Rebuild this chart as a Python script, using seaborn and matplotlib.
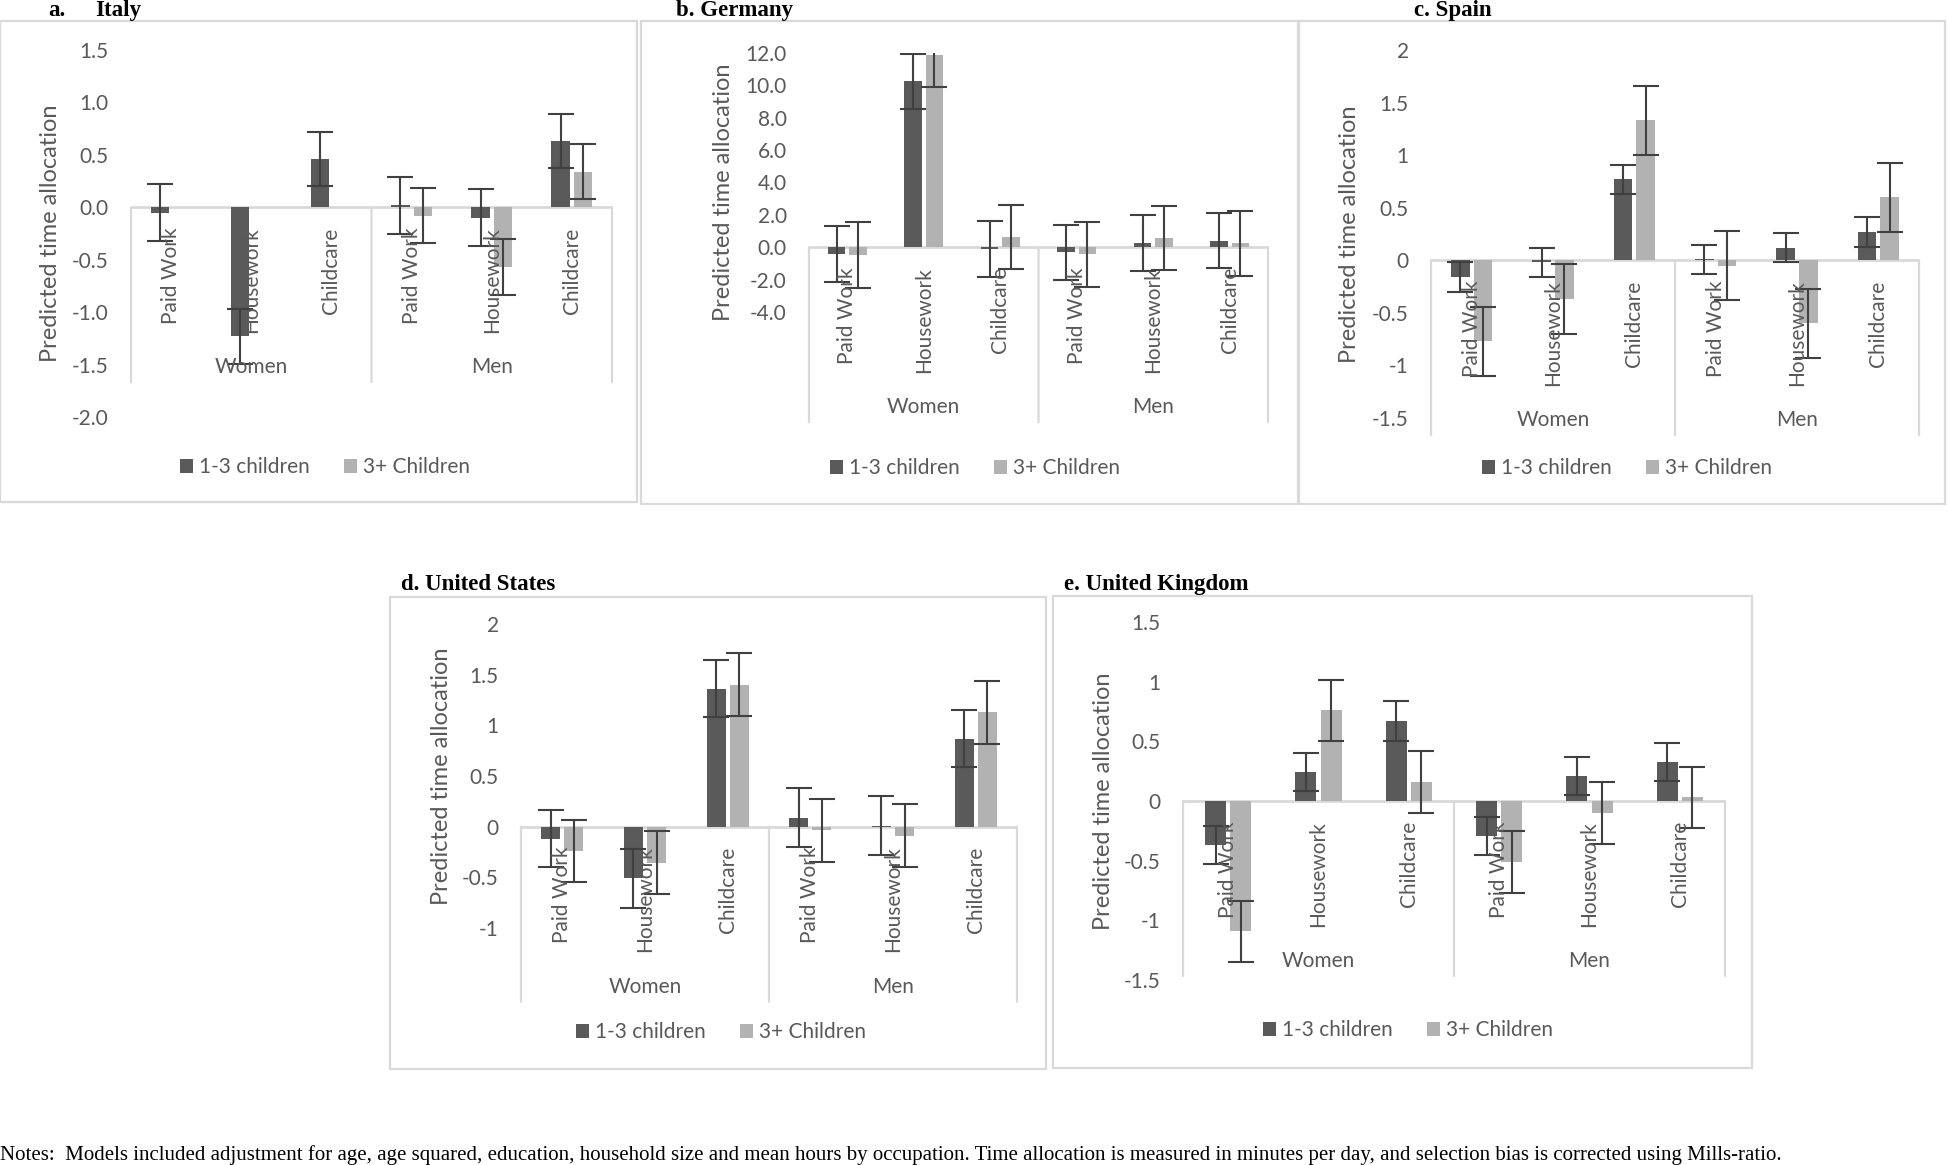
import numpy as np
import pandas as pd
import matplotlib
matplotlib.use("Agg")
import matplotlib.pyplot as plt
import matplotlib.transforms as mtransforms
from matplotlib.patches import Rectangle, Patch
import seaborn as sns

# ---- data ----
groups = ["Women", "Men"]
activities = ["Paid Work", "Housework", "Childcare"]
series = ["1-3 children", "3+ Children"]

# order: Women PW, HW, CC, Men PW, HW, CC
italy_13 = [-0.05, -1.23, 0.46, 0.02, -0.10, 0.63]
italy_3p = [np.nan, np.nan, np.nan, -0.08, -0.57, 0.34]
italy_13_err = [0.27, 0.26, 0.26, 0.27, 0.27, 0.26]
italy_3p_err = [np.nan, np.nan, np.nan, 0.26, 0.27, 0.26]

germany_13 = [-0.42, 10.25, -0.13, -0.31, 0.27, 0.41]
germany_3p = [-0.48, 11.9, 0.65, -0.42, 0.57, 0.24]
germany_13_err = [1.72, 1.70, 1.73, 1.71, 1.73, 1.70]
germany_3p_err = [2.02, 2.00, 1.99, 2.01, 1.97, 1.99]

spain_13 = [-0.16, -0.02, 0.77, 0.01, 0.12, 0.27]
spain_3p = [-0.77, -0.37, 1.33, -0.05, -0.60, 0.60]
spain_13_err = [0.14, 0.14, 0.14, 0.14, 0.14, 0.14]
spain_3p_err = [0.33, 0.33, 0.33, 0.33, 0.33, 0.33]

us_13 = [-0.12, -0.51, 1.36, 0.09, 0.01, 0.87]
us_3p = [-0.24, -0.355, 1.40, -0.035, -0.09, 1.13]
us_13_err = [0.28, 0.29, 0.28, 0.29, 0.29, 0.285]
us_3p_err = [0.31, 0.31, 0.31, 0.31, 0.31, 0.31]

uk_13 = [-0.37, 0.24, 0.67, -0.295, 0.21, 0.33]
uk_3p = [-1.09, 0.76, 0.16, -0.51, -0.10, 0.03]
uk_13_err = [0.16, 0.16, 0.165, 0.16, 0.16, 0.16]
uk_3p_err = [0.255, 0.255, 0.257, 0.257, 0.258, 0.257]

notes = ("Notes:  Models included adjustment for age, age squared, education, household size and mean hours by "
         "occupation. Time allocation is measured in minutes per day, and selection bias is corrected using Mills-ratio.")

# ---- style ----
plt.rcParams['font.family'] = ['Lato', 'DejaVu Sans']
TXT = "#595959"
DARK = "#5a5a5a"
LIGHT = "#b2b2b2"
ERR = "#404040"
GRID = "#d9d9d9"
FS = 15
W, H = 1948, 1165
BAR_W = 0.56

fig = plt.figure(figsize=(W / 100, H / 100), dpi=100)


def fx(x):
    return x / W


def fy(y):
    return 1 - y / H


def draw_panel(title, title_x, title_y, box, xr, yr, ylim, ticks, tick_fmt,
               ylab_xy, leg_xy, v13, v3p, e13, e3p):
    # panel frame
    bx0, by0, bx1, by1 = box
    fig.patches.append(Rectangle((fx(bx0), fy(by1)), fx(bx1 - bx0), (by1 - by0) / H,
                                 transform=fig.transFigure, fill=False,
                                 edgecolor=GRID, lw=1.6))
    fig.text(fx(title_x), fy(title_y), title, family=['Liberation Serif'],
             weight='bold', fontsize=16.5, color='black', ha='left', va='baseline')

    x0, x1 = xr
    y0, y1 = yr
    ax = fig.add_axes([fx(x0), fy(y1), fx(x1 - x0), (y1 - y0) / H])

    slots = [f"{g} {a}" for g in groups for a in activities]
    df = pd.DataFrame({
        "slot": slots * 2,
        "series": [series[0]] * 6 + [series[1]] * 6,
        "value": list(v13) + list(v3p),
    })
    sns.barplot(data=df, x="slot", y="value", hue="series", order=slots,
                hue_order=series, palette=[DARK, LIGHT], width=BAR_W, gap=0.18,
                errorbar=None, legend=False, ax=ax, zorder=2)

    off = BAR_W / 4
    pos = np.arange(len(slots))
    for d, vals, errs in [(-off, v13, e13), (off, v3p, e3p)]:
        ax.errorbar(pos + d, vals, yerr=errs, fmt='none', ecolor=ERR,
                    elinewidth=1.5, capsize=9.5, capthick=1.5, zorder=3)

    ax.set_xlim(-0.5, 5.5)
    ax.set_ylim(*ylim)
    ax.set_yticks(ticks)
    ax.set_yticklabels([tick_fmt(t) for t in ticks])
    ax.set_xticks([])
    ax.tick_params(axis='y', length=0, pad=16, labelsize=FS, labelcolor=TXT)
    for s in ax.spines.values():
        s.set_visible(False)
    ax.set_facecolor('none')
    ax.set_xlabel("")
    ax.set_ylabel("")
    ax.axhline(0, color=GRID, lw=2, zorder=1.5)

    # two-level category axis below the zero line
    cat_tr = mtransforms.offset_copy(ax.transData, fig=fig, y=-20, units='dots')
    grp_tr = mtransforms.offset_copy(ax.transData, fig=fig, y=-160, units='dots')
    for i, s in enumerate(slots):
        ax.text(i, 0, activities[i % 3], transform=cat_tr, rotation=90,
                ha='center', va='top', fontsize=FS, color=TXT, clip_on=False)
    for j, g in enumerate(groups):
        ax.text(1 + 3 * j, 0, g, transform=grp_tr, ha='center', va='center',
                fontsize=FS, color=TXT, clip_on=False)
    for xd in [-0.5, 2.5, 5.5]:
        ax.annotate('', xy=(xd, 0), xycoords='data', xytext=(0, -175),
                    textcoords='offset pixels', annotation_clip=False,
                    arrowprops=dict(arrowstyle='-', color=GRID, lw=1.6,
                                    shrinkA=0, shrinkB=0))

    fig.text(fx(ylab_xy[0]), fy(ylab_xy[1]), "Predicted time allocation",
             rotation=90, ha='center', va='center', fontsize=17, color=TXT)

    handles = [Patch(facecolor=DARK, label=series[0]),
               Patch(facecolor=LIGHT, label=series[1])]
    fig.legend(handles=handles, loc='center', ncol=2, frameon=False,
               bbox_to_anchor=(fx(leg_xy[0]), fy(leg_xy[1])),
               fontsize=FS, labelcolor=TXT, handlelength=0.65, handleheight=0.65,
               handletextpad=0.3, columnspacing=1.6)
    return ax


dec1 = lambda t: f"{t:.1f}"
gen = lambda t: f"{t:g}"

draw_panel("a.", 48, 16, (0, 21, 637, 502), (131, 612), (50, 417), (-2.0, 1.5),
           [1.5, 1.0, 0.5, 0.0, -0.5, -1.0, -1.5, -2.0], dec1, (51, 233), (325, 467),
           italy_13, italy_3p, italy_13_err, italy_3p_err)
fig.text(fx(95), fy(16), "Italy", family=['Liberation Serif'], weight='bold',
         fontsize=16.5, color='black', ha='left', va='baseline')

draw_panel("b. Germany", 676, 16, (641, 21, 1298, 504), (809, 1268), (53, 312), (-4.0, 12.0),
           [12, 10, 8, 6, 4, 2, 0, -2, -4], dec1, (723, 192), (975, 468),
           germany_13, germany_3p, germany_13_err, germany_3p_err)

draw_panel("c. Spain", 1414, 16, (1299, 21, 1945, 504), (1431, 1919), (50, 418), (-1.5, 2.0),
           [2, 1.5, 1, 0.5, 0, -0.5, -1, -1.5], gen, (1350, 234), (1627, 468),
           spain_13, spain_3p, spain_13_err, spain_3p_err)

draw_panel("d. United States", 401, 590, (390, 597, 1046, 1069), (521, 1017), (624, 928), (-1.0, 2.0),
           [2, 1.5, 1, 0.5, 0, -0.5, -1], gen, (441, 776), (721, 1032),
           us_13, us_3p, us_13_err, us_3p_err)

draw_panel("e. United Kingdom", 1064, 590, (1053, 596, 1752, 1068), (1183, 1725), (622, 980), (-1.5, 1.5),
           [1.5, 1, 0.5, 0, -0.5, -1, -1.5], gen, (1103, 801), (1408, 1030),
           uk_13, uk_3p, uk_13_err, uk_3p_err)

fig.text(0, fy(1160), notes, family=['Liberation Serif'], fontsize=15,
         color='black', ha='left', va='baseline')

fig.savefig("out.png", dpi=100, facecolor='white')
